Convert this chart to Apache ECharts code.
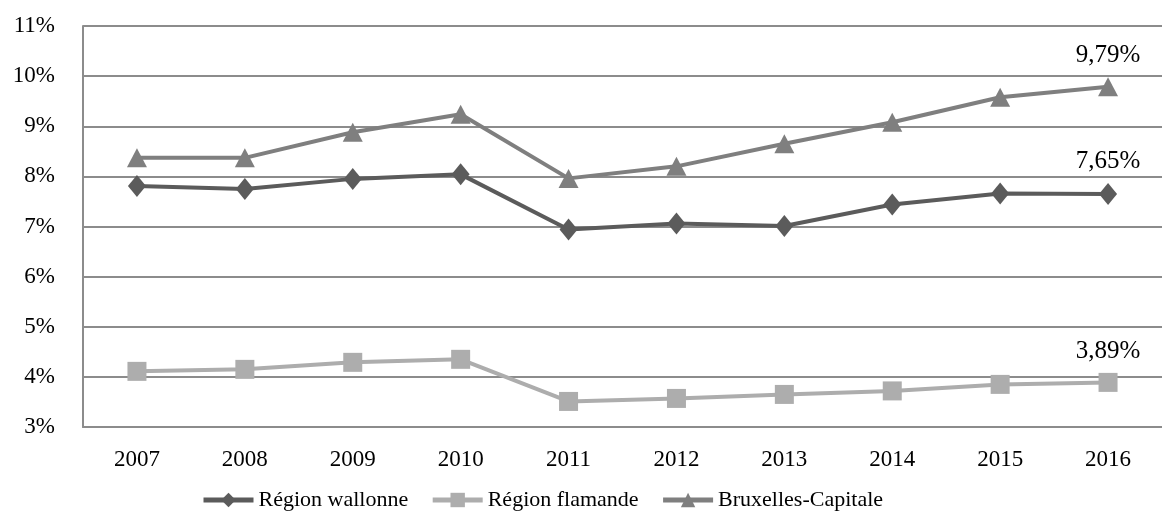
<!DOCTYPE html>
<html>
<head>
<meta charset="utf-8">
<script src="https://cdn.jsdelivr.net/npm/echarts@6/dist/echarts.min.js"></script>
<style>
html,body{margin:0;padding:0;background:#fff;}
#chart{width:1162px;height:516px;}
</style>
</head>
<body>
<div id="chart"></div>
<script>
const years = ['2007','2008','2009','2010','2011','2012','2013','2014','2015','2016'];
const wallonne = [7.81, 7.75, 7.95, 8.04, 6.94, 7.06, 7.01, 7.44, 7.66, 7.65];
const flamande = [4.11, 4.15, 4.29, 4.35, 3.51, 3.57, 3.65, 3.72, 3.85, 3.89];
const bruxelles = [8.37, 8.37, 8.88, 9.24, 7.96, 8.20, 8.65, 9.08, 9.58, 9.79];
const seriesNames = ['Région wallonne', 'Région flamande', 'Bruxelles-Capitale'];
const colors = ['#5b5b5b', '#adadad', '#7f7f7f'];

const font = 'Liberation Serif';
function withLastLabel(arr) {
  return arr.map((v, i) => i === arr.length - 1
    ? { value: v, label: { show: true } }
    : v);
}
function mkSeries(name, data, color, symbol, size) {
  return {
    name: name,
    type: 'line',
    data: withLastLabel(data),
    symbol: symbol,
    symbolSize: size,
    lineStyle: { color: color, width: 4 },
    itemStyle: { color: color },
    label: {
      show: false,
      position: 'top',
      distance: 9,
      fontFamily: font,
      fontSize: 25,
      color: '#000',
      formatter: p => p.value.toFixed(2).replace('.', ',') + '%'
    },
    animation: false
  };
}
const chart = echarts.init(document.getElementById('chart'));
chart.setOption({
  backgroundColor: '#fff',
  animation: false,
  grid: { left: 83, top: 26, width: 1092, height: 401, containLabel: false },
  legend: {
    left: 196,
    top: 484,
    itemWidth: 50,
    itemHeight: 18,
    itemGap: 22,
    lineStyle: { width: 5 },
    textStyle: { fontFamily: font, fontSize: 22, color: '#000' },
    data: seriesNames
  },
  xAxis: {
    type: 'category',
    data: years,
    boundaryGap: true,
    axisLine: { show: true, lineStyle: { color: '#8c8c8c', width: 2 } },
    axisTick: { show: false },
    axisLabel: { fontFamily: font, fontSize: 23, color: '#000', margin: 21 }
  },
  yAxis: {
    type: 'value',
    min: 3,
    max: 11,
    interval: 1,
    axisLine: { show: true, lineStyle: { color: '#8c8c8c', width: 2 } },
    axisTick: { show: false },
    splitLine: { show: true, lineStyle: { color: '#8c8c8c', width: 2 } },
    axisLabel: { fontFamily: font, fontSize: 23, color: '#000', margin: 28, formatter: '{value}%' }
  },
  series: [
    mkSeries(seriesNames[0], wallonne, colors[0], 'diamond', [18, 22]),
    mkSeries(seriesNames[1], flamande, colors[1], 'rect', 19),
    mkSeries(seriesNames[2], bruxelles, colors[2], 'triangle', [20, 19])
  ]
});
</script>
</body>
</html>
